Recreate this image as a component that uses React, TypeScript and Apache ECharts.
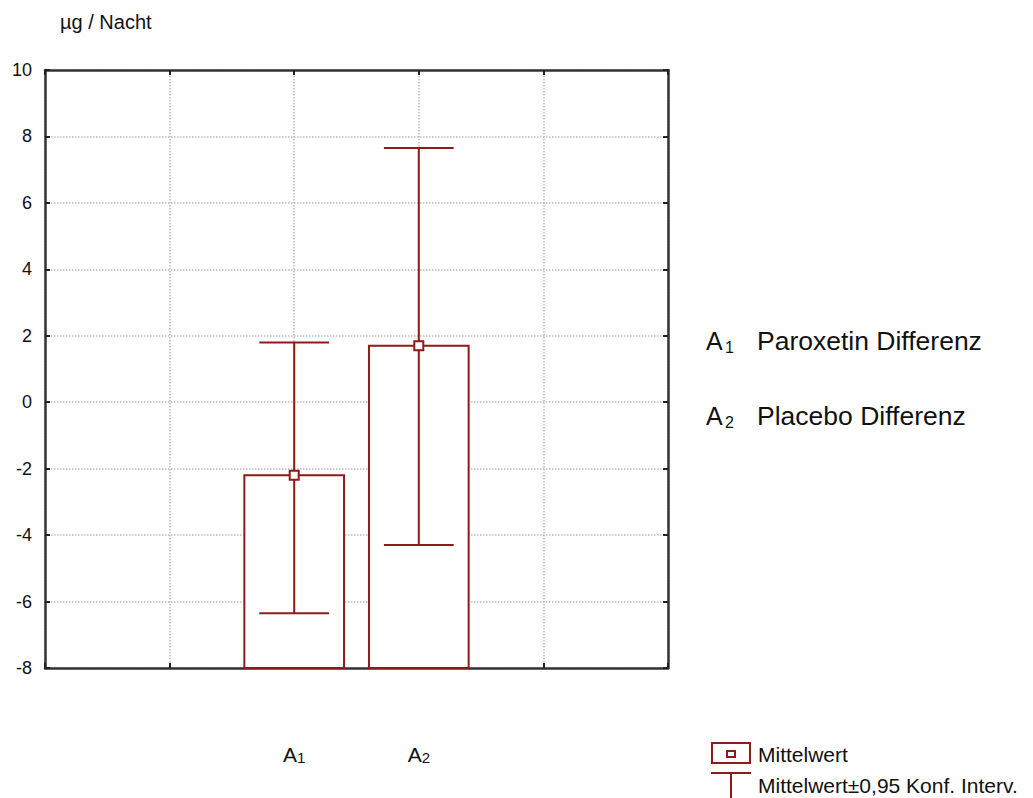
import React, { useEffect, useRef } from "react";
import * as echarts from "echarts";

const categoryNames = ["A", "A"];
const categorySubs = ["1", "2"];
const categoryPositions = [2, 3];
const means = [-2.2, 1.7];
const lowerCI = [-6.35, -4.3];
const upperCI = [1.8, 7.65];
const descriptions = ["Paroxetin Differenz", "Placebo Differenz"];
const yMin = -8;
const yMax = 10;
const yInterval = 2;
const xMin = 0;
const xMax = 5;

const RED = "#8e1a1a";
const FONT = 'Arial, "Liberation Sans", sans-serif';
const TEXT = "#111";

export default function App() {
  const ref = useRef<HTMLDivElement>(null);
  useEffect(() => {
    if (!ref.current) return;
    const chart = echarts.init(ref.current, undefined, { renderer: "svg" });
    const data = categoryPositions.map((x, i) => [x, means[i], lowerCI[i], upperCI[i]]);
    const BAR_HALF = 0.4;
    const CAP_HALF = 0.28;
    const axisLine = { show: true, onZero: false, lineStyle: { color: "#333", width: 2.5 } };
    const tick = { show: true, inside: true, length: 5, lineStyle: { color: "#222", width: 2 } };
    const gridLine = { show: true, lineStyle: { color: "#bdbdbd", type: "dotted", width: 1.5 } };

    const graphics: any[] = [
      { type: "text", left: 60, top: 12, style: { text: "\u00b5g / Nacht", font: `20px ${FONT}`, fill: TEXT } },
    ];
    descriptions.forEach((d, i) => {
      const cy = 341 + i * 75;
      graphics.push({ type: "text", x: 706, y: cy, style: { text: categoryNames[i], font: `25px ${FONT}`, fill: TEXT, verticalAlign: "middle" } });
      graphics.push({ type: "text", x: 725, y: cy + 6, style: { text: categorySubs[i], font: `16px ${FONT}`, fill: TEXT, verticalAlign: "middle" } });
      graphics.push({ type: "text", x: 757, y: cy, style: { text: d, font: `26.5px ${FONT}`, fill: TEXT, verticalAlign: "middle" } });
    });
    // legend
    graphics.push({ type: "rect", shape: { x: 712, y: 743, width: 38, height: 20 }, style: { fill: "#fff", stroke: RED, lineWidth: 2 } });
    graphics.push({ type: "rect", shape: { x: 727, y: 751, width: 8, height: 6 }, style: { fill: "#fff", stroke: RED, lineWidth: 2 } });
    graphics.push({ type: "text", x: 758, y: 754, style: { text: "Mittelwert", font: `21px ${FONT}`, fill: TEXT, verticalAlign: "middle" } });
    graphics.push({ type: "line", shape: { x1: 711, y1: 773, x2: 751, y2: 773 }, style: { stroke: RED, lineWidth: 2 } });
    graphics.push({ type: "line", shape: { x1: 731, y1: 773, x2: 731, y2: 800 }, style: { stroke: RED, lineWidth: 2 } });
    graphics.push({ type: "text", x: 758, y: 785, style: { text: "Mittelwert\u00b10,95 Konf. Interv.", font: `21px ${FONT}`, fill: TEXT, verticalAlign: "middle" } });

    chart.setOption({
      animation: false,
      backgroundColor: "#fff",
      grid: { left: 45, top: 70, width: 623, height: 598, containLabel: false },
      xAxis: [
        {
          type: "value", min: xMin, max: xMax, interval: 1, position: "bottom",
          axisLine, axisTick: tick, splitLine: gridLine,
          axisLabel: {
            margin: 73, color: TEXT, fontSize: 20, fontFamily: FONT,
            formatter: (v: number) => {
              const i = categoryPositions.indexOf(v);
              return i >= 0 ? `{a|${categoryNames[i]}}{s|${categorySubs[i]}}` : "";
            },
            rich: {
              a: { fontSize: 21, fontFamily: FONT, color: TEXT, lineHeight: 24, verticalAlign: "bottom" },
              s: { fontSize: 15, fontFamily: FONT, color: TEXT, lineHeight: 1, verticalAlign: "bottom" },
            },
          },
        },
        {
          type: "value", min: xMin, max: xMax, interval: 1, position: "top",
          axisLine, axisTick: tick, splitLine: { show: false }, axisLabel: { show: false },
        },
      ],
      yAxis: [
        {
          type: "value", min: yMin, max: yMax, interval: yInterval, position: "left",
          axisLine, axisTick: tick, splitLine: gridLine,
          axisLabel: { margin: 13, fontSize: 18, fontFamily: FONT, color: TEXT },
        },
        {
          type: "value", min: yMin, max: yMax, interval: yInterval, position: "right",
          axisLine, axisTick: tick, splitLine: { show: false }, axisLabel: { show: false },
        },
      ],
      graphic: graphics,
      series: [
        {
          type: "custom",
          xAxisIndex: 0,
          yAxisIndex: 0,
          encode: { x: 0, y: [1, 2, 3] },
          data,
          renderItem: (params: any, api: any) => {
            const x = api.value(0);
            const m = api.value(1);
            const lo = api.value(2);
            const hi = api.value(3);
            const tl = api.coord([x - BAR_HALF, m]);
            const br = api.coord([x + BAR_HALF, yMin]);
            const pm = api.coord([x, m]);
            const ph = api.coord([x, hi]);
            const pl = api.coord([x, lo]);
            const cl = api.coord([x - CAP_HALF, hi]);
            const cr = api.coord([x + CAP_HALF, hi]);
            const ll = api.coord([x - CAP_HALF, lo]);
            const lr = api.coord([x + CAP_HALF, lo]);
            const st = { stroke: RED, lineWidth: 2, fill: "none" };
            return {
              type: "group",
              children: [
                { type: "rect", shape: { x: tl[0], y: tl[1], width: br[0] - tl[0], height: br[1] - tl[1] }, style: { fill: "#fff", stroke: RED, lineWidth: 2 } },
                { type: "line", shape: { x1: ph[0], y1: ph[1], x2: pl[0], y2: pl[1] }, style: st },
                { type: "line", shape: { x1: cl[0], y1: cl[1], x2: cr[0], y2: cr[1] }, style: st },
                { type: "line", shape: { x1: ll[0], y1: ll[1], x2: lr[0], y2: lr[1] }, style: st },
                { type: "rect", shape: { x: pm[0] - 4.5, y: pm[1] - 4.5, width: 9, height: 9 }, style: { fill: "#fff", stroke: RED, lineWidth: 2 } },
              ],
            };
          },
        },
      ],
    });
    return () => chart.dispose();
  }, []);
  return <div ref={ref} style={{ position: "absolute", left: 0, top: 0, width: 1033, height: 798 }} />;
}
